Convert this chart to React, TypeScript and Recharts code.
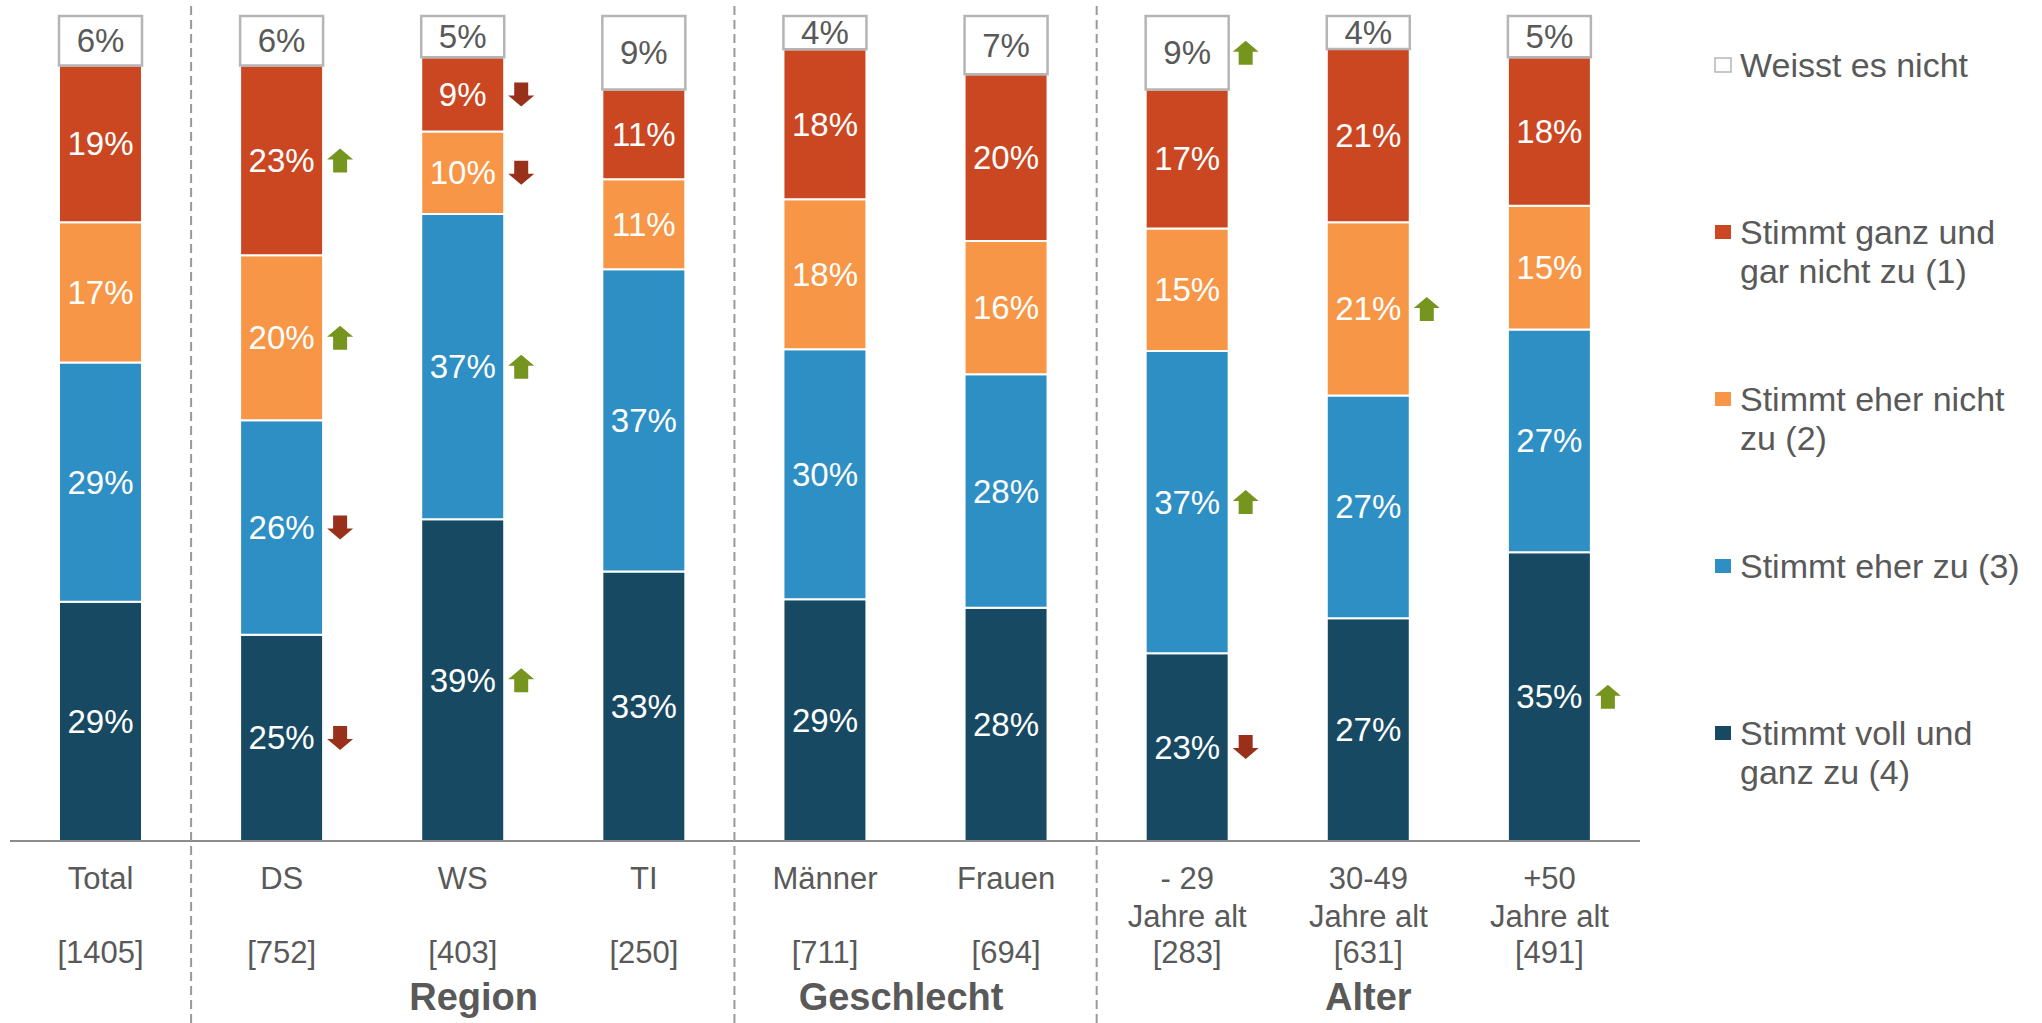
import React from 'react';
import { BarChart, Bar, XAxis, YAxis, LabelList } from 'recharts';

const categories = ['Total', 'DS', 'WS', 'TI', 'Männer', 'Frauen', '- 29', '30-49', '+50'];
const categorySub = ['', '', '', '', '', '', 'Jahre alt', 'Jahre alt', 'Jahre alt'];
const sampleSizes = [1405, 752, 403, 250, 711, 694, 283, 631, 491];

// stacked from bottom to top
const vollUndGanz = [29, 25, 39, 33, 29, 28, 23, 27, 35];
const eherZu = [29, 26, 37, 37, 30, 28, 37, 27, 27];
const eherNicht = [17, 20, 10, 11, 18, 16, 15, 21, 15];
const garNicht = [19, 23, 9, 11, 18, 20, 17, 21, 18];
const weissNicht = [6, 6, 5, 9, 4, 7, 9, 4, 5];

// significance arrows next to segments
const vollTrend = ['', 'down', 'up', '', '', '', 'down', '', 'up'];
const eherZuTrend = ['', 'down', 'up', '', '', '', 'up', '', ''];
const eherNichtTrend = ['', 'up', 'down', '', '', '', '', 'up', ''];
const garNichtTrend = ['', 'up', 'down', '', '', '', '', '', ''];
const weissTrend = ['', '', '', '', '', '', 'up', '', ''];

const groups = [
  { label: 'Region', pos: 2.06 },
  { label: 'Geschlecht', pos: 4.42 },
  { label: 'Alter', pos: 7.0 },
];
const separators = [1, 4, 6];

const legendItems = [
  { lines: ['Weisst es nicht'], color: '#ffffff' },
  { lines: ['Stimmt ganz und', 'gar nicht zu (1)'], color: '#cb4722' },
  { lines: ['Stimmt eher nicht', 'zu (2)'], color: '#f79646' },
  { lines: ['Stimmt eher zu (3)'], color: '#2e8fc4' },
  { lines: ['Stimmt voll und', 'ganz zu (4)'], color: '#174a62' },
];

const data = categories.map((name, i) => ({
  name,
  voll: vollUndGanz[i],
  eherZu: eherZu[i],
  eherNicht: eherNicht[i],
  garNicht: garNicht[i],
  weiss: weissNicht[i],
}));

const W = 2042;
const H = 1023;
const margin = { top: 16, right: 402, bottom: 0, left: 10 };
const axisHeight = 182;
const plotW = W - margin.left - margin.right;
const band = plotW / categories.length;
const FONT = "'Liberation Sans', Arial, Helvetica, sans-serif";
const GREY = '#595959';

const Arrow = ({ cx, cy, dir }: { cx: number; cy: number; dir: string }) => {
  const s = dir === 'up' ? 1 : -1;
  const pts = [
    [0, -12],
    [13, -1],
    [7, -1],
    [7, 12],
    [-7, 12],
    [-7, -1],
    [-13, -1],
  ]
    .map(([dx, dy]) => `${cx + dx},${cy + dy * s}`)
    .join(' ');
  return <polygon points={pts} fill={dir === 'up' ? '#76951e' : '#99301a'} />;
};

const makeLabel = (values: number[], trends: string[], textColor: string) => (props: any) => {
  const vb = props.viewBox || props;
  const { x, y, width, height } = vb;
  let i = props.index;
  if (i === undefined && props.payload) i = categories.indexOf(props.payload.name);
  if (i === undefined || i < 0) return null;
  const cx = x + width / 2;
  const cy = y + height / 2;
  return (
    <g>
      <text
        x={cx}
        y={cy}
        textAnchor="middle"
        dominantBaseline="central"
        fontSize={33}
        fontFamily={FONT}
        fill={textColor}
      >
        {values[i]}%
      </text>
      {trends[i] ? <Arrow cx={x + width + 17} cy={cy} dir={trends[i]} /> : null}
    </g>
  );
};

const CategoryTick = (props: any) => {
  const { x, y, payload } = props;
  const i = categories.indexOf(payload.value);
  const common = { x, textAnchor: 'middle' as const, fontSize: 31, fontFamily: FONT, fill: GREY };
  return (
    <g>
      <text {...common} y={y + 48}>{categories[i]}</text>
      {categorySub[i] ? <text {...common} y={y + 86}>{categorySub[i]}</text> : null}
      <text {...common} y={y + 122}>[{sampleSizes[i]}]</text>
    </g>
  );
};

export default function App() {
  return (
    <div style={{ position: 'absolute', left: 0, top: 0, width: W, height: H, background: '#fff' }}>
      <BarChart width={W} height={H} data={data} margin={margin} stackOffset="expand" barSize={83}>
        <XAxis
          dataKey="name"
          height={axisHeight}
          interval={0}
          tickLine={false}
          tickSize={0}
          tickMargin={0}
          axisLine={{ stroke: '#8c8c8c', strokeWidth: 2 }}
          tick={<CategoryTick />}
        />
        <YAxis hide domain={[0, 1]} />
        <Bar dataKey="voll" stackId="a" fill="#174a62" stroke="#ffffff" strokeWidth={2} isAnimationActive={false}>
          <LabelList content={makeLabel(vollUndGanz, vollTrend, '#ffffff')} />
        </Bar>
        <Bar dataKey="eherZu" stackId="a" fill="#2e8fc4" stroke="#ffffff" strokeWidth={2} isAnimationActive={false}>
          <LabelList content={makeLabel(eherZu, eherZuTrend, '#ffffff')} />
        </Bar>
        <Bar dataKey="eherNicht" stackId="a" fill="#f79646" stroke="#ffffff" strokeWidth={2} isAnimationActive={false}>
          <LabelList content={makeLabel(eherNicht, eherNichtTrend, '#ffffff')} />
        </Bar>
        <Bar dataKey="garNicht" stackId="a" fill="#cb4722" stroke="#ffffff" strokeWidth={2} isAnimationActive={false}>
          <LabelList content={makeLabel(garNicht, garNichtTrend, '#ffffff')} />
        </Bar>
        <Bar dataKey="weiss" stackId="a" fill="#ffffff" stroke="#b5b5b5" strokeWidth={2.5} isAnimationActive={false}>
          <LabelList content={makeLabel(weissNicht, weissTrend, GREY)} />
        </Bar>
      </BarChart>
      <svg
        width={W}
        height={H}
        style={{ position: 'absolute', left: 0, top: 0, pointerEvents: 'none' }}
      >
        {separators.map((k) => {
          const sx = margin.left + band * k;
          return (
            <line key={k} x1={sx} x2={sx} y1={6} y2={H} stroke="#999999" strokeWidth={2} strokeDasharray="9 5" />
          );
        })}
        {groups.map((g) => (
          <text
            key={g.label}
            x={margin.left + band * (g.pos + 0.5)}
            y={1010}
            textAnchor="middle"
            fontSize={38}
            fontWeight="bold"
            fontFamily={FONT}
            fill={GREY}
          >
            {g.label}
          </text>
        ))}
        {legendItems.map((item, k) => {
          const cy = 65 + k * 167;
          return (
            <g key={k}>
              <rect
                x={1715}
                y={cy - 7}
                width={16}
                height={14}
                fill={item.color}
                stroke={item.color === '#ffffff' ? '#b5b5b5' : 'none'}
                strokeWidth={1.5}
              />
              {item.lines.map((line, j) => (
                <text
                  key={j}
                  x={1740}
                  y={cy + j * 39}
                  dominantBaseline="central"
                  fontSize={34}
                  fontFamily={FONT}
                  fill={GREY}
                >
                  {line}
                </text>
              ))}
            </g>
          );
        })}
      </svg>
    </div>
  );
}
